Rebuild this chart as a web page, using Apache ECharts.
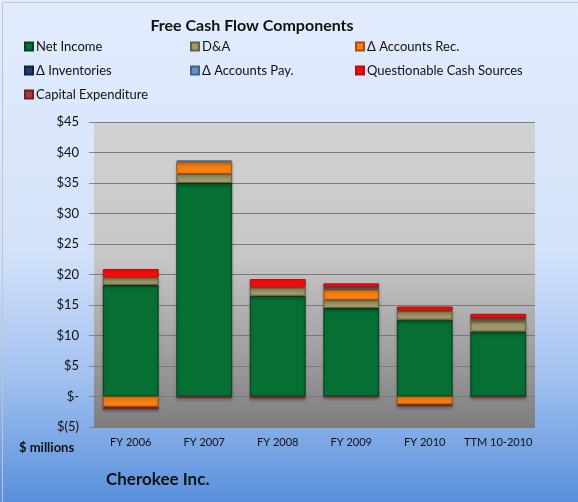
<!DOCTYPE html>
<html><head><meta charset="utf-8">
<script src="https://cdn.jsdelivr.net/npm/echarts@6/dist/echarts.min.js"></script>
<style>html,body{margin:0;padding:0;background:#fff}#c{width:578px;height:502px}</style>
</head><body><div id="c"></div>
<script>
const categories = ['FY 2006','FY 2007','FY 2008','FY 2009','FY 2010','TTM 10-2010'];
const netIncome   = [18.3, 35.0, 16.5, 14.5, 12.6, 10.65];
const dA          = [1.2, 1.5, 1.4, 1.35, 1.45, 1.8];
const accountsRec = [-1.7, 2.0, null, 1.8, -1.3, 0.3];
const inventories = [null, null, null, null, null, null];
const accountsPay = [null, 0.2, null, 0.3, null, 0.1];
const questionable= [1.4, null, 1.35, 0.6, 0.7, 0.7];
const capex       = [-0.4, -0.25, -0.3, -0.1, -0.3, -0.1];
const yTicks = [-5, 0, 5, 10, 15, 20, 25, 30, 35, 40, 45];

const FONT = 'Lato, "Liberation Sans", sans-serif';
const seriesDefs = [
  ['Net Income', netIncome, '#067034', '#03401d'],
  ['D&A', dA, '#a09a68', '#6a6040'],
  ['Δ Accounts Rec.', accountsRec, '#f88010', '#a84e10'],
  ['Δ Inventories', inventories, '#1f3c6e', '#10203e'],
  ['Δ Accounts Pay.', accountsPay, '#6f8fc0', '#40608e'],
  ['Questionable Cash Sources', questionable, '#ff0a0a', '#b01010'],
  ['Capital Expenditure', capex, '#a83a3a', '#702020']
];
const chart = echarts.init(document.getElementById('c'), null, {renderer:'canvas'});
const legendBase = {
  orient: 'vertical', itemWidth: 8, itemHeight: 8, itemGap: 11, icon: 'rect',
  textStyle: {fontFamily: FONT, fontSize: 13, color: '#111', padding:[0,0,0,-2]}
};
chart.setOption({
  backgroundColor: {type:'linear', x:0, y:0, x2:0, y2:1, colorStops:[
    {offset:0, color:'#e2ecfd'},{offset:0.5, color:'#d3e2fa'},{offset:0.75, color:'#a3c1f0'},{offset:1, color:'#5890dc'}]},
  animation: false,
  title: {text: 'Free Cash Flow Components', left: 247, top: 13, textAlign: 'center',
    textStyle: {fontFamily: FONT, fontSize: 16, fontWeight: 'bold', color: '#111'}},
  legend: [
    Object.assign({}, legendBase, {left: 19, top: 35, data: ['Net Income','Δ Inventories','Capital Expenditure']}),
    Object.assign({}, legendBase, {left: 185, top: 35, data: ['D&A','Δ Accounts Pay.']}),
    Object.assign({}, legendBase, {left: 350, top: 35, data: ['Δ Accounts Rec.','Questionable Cash Sources']})
  ],
  grid: {left: 94, right: 43, top: 122, bottom: 75, show: true, borderWidth: 0,
    backgroundColor: {type:'linear', x:0, y:0, x2:0, y2:1, colorStops:[
      {offset:0, color:'#d2d2d2'},{offset:0.45, color:'#c6c6c6'},{offset:0.75, color:'#a0a0a0'},{offset:1, color:'#7e7e7e'}]}},
  xAxis: {type:'category', data: categories,
    axisLine:{show:false, onZero:false}, axisTick:{show:false},
    axisLabel:{interval: 0, fontFamily: FONT, fontSize: 11, color:'#111', margin: 10}},
  yAxis: {type:'value', min: yTicks[0], max: yTicks[yTicks.length-1], interval: 5,
    axisLine:{show:false},
    axisTick:{show:true, length:5, lineStyle:{color:'#888'}},
    splitLine:{lineStyle:{color:'#7a7a7a', width:1}},
    axisLabel:{fontFamily: FONT, fontSize: 13, color:'#111', margin: 15,
      formatter: v => v === 0 ? '$-' : (v < 0 ? '$(' + (-v) + ')' : '$' + v)}},
  graphic: [
    {type:'rect', left: 0, top: 0, shape:{width: 577, height: 501}, style:{fill:'none', stroke:'#c4c4c4', lineWidth:1}, silent:true},
    {type:'text', left: 19, top: 441, style:{text:'$ millions', font:'bold 13px ' + FONT, fill:'#111'}},
    {type:'text', left: 106, top: 471, style:{text:'Cherokee Inc.', font:'bold 17px ' + FONT, fill:'#111'}}
  ],
  series: seriesDefs.map(([name, data, color, border]) => ({
    name, type:'bar', stack:'fcf', data, barCategoryGap: '24%',
    itemStyle:{color, borderColor: border, borderWidth: 1, shadowColor:'rgba(0,0,0,0.25)', shadowBlur:3, shadowOffsetY:2}
  }))
});
</script></body></html>
